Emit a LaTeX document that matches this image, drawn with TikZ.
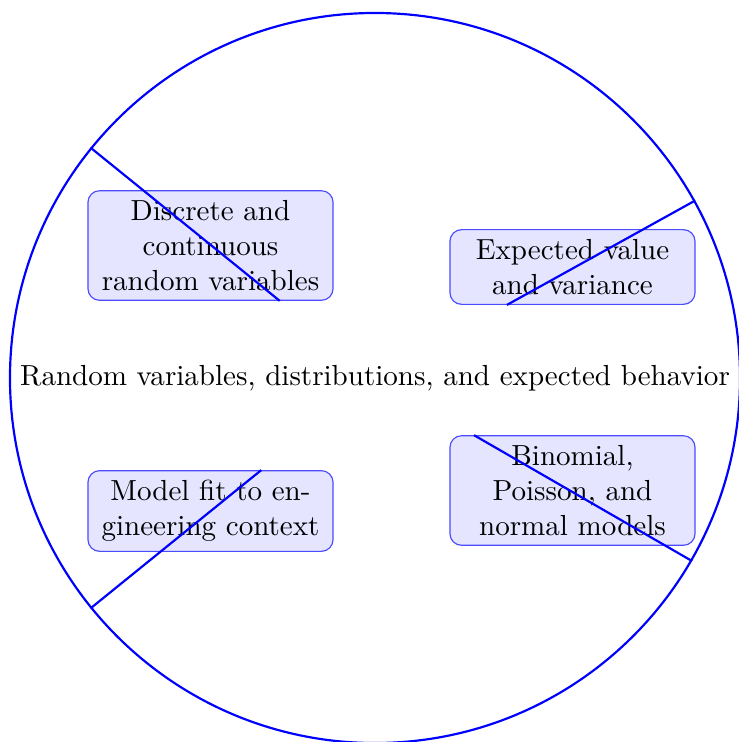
\documentclass[tikz,border=0pt]{standalone}
\begin{document}
\begin{tikzpicture}[x=0.34423pt,y=-0.34423pt,
  hub/.style={circle, draw=blue, line width=0.75pt, minimum size=251.3pt, inner sep=0pt},
  topic/.style={draw=blue!70, fill=blue!10, rounded corners=4pt, align=center,
    text width=77.7pt, inner sep=3.33pt},
  spoke/.style={blue, line width=0.75pt}]
\useasboundingbox (0,0) rectangle (738,742);
% central theme
\node[hub] (C) at (375,378) {Random variables, distributions, and expected behavior};
% four topics
\node[topic] (n1) at (210.5,245.5) {Discrete and\\continuous\\random variables};
\node[topic] (n2) at (572.5,267) {Expected value\\and variance};
\node[topic] (n3) at (210.5,511) {Model fit to en-\\gineering context};
\node[topic] (n4) at (572.5,490.5) {Binomial,\\Poisson, and\\normal models};
% radial spokes, each stopping at the far side of its topic box
\draw[spoke] (C.141) -- (intersection of C.141--C.center and n1.south west--n1.south east);
\draw[spoke] (C.29.4) -- (intersection of C.29.4--C.center and n2.south west--n2.south east);
\draw[spoke] (C.219) -- (intersection of C.219--C.center and n3.north west--n3.north east);
\draw[spoke] (C.330.6) -- (intersection of C.330.6--C.center and n4.north west--n4.north east);
\end{tikzpicture}
\end{document}
